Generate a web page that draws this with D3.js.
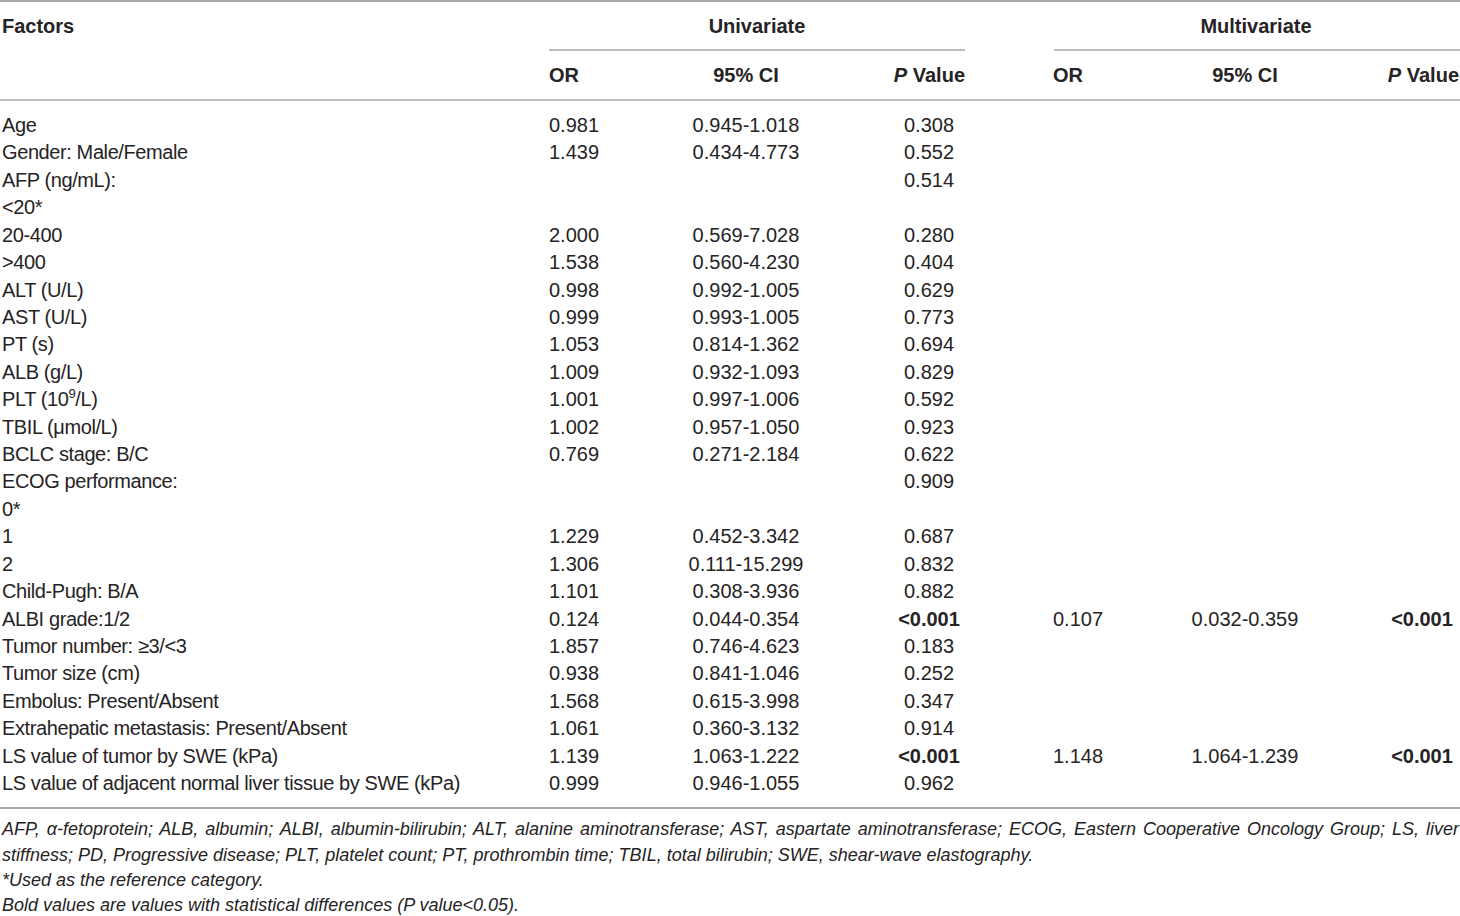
<!DOCTYPE html>
<html>
<head>
<meta charset="utf-8">
<script src="https://cdn.jsdelivr.net/npm/d3@7"></script>
<style>
  body { margin: 0; background: #fff; }
  text { font-family: "Liberation Sans", Arial, Helvetica, sans-serif; fill: #262324; }
</style>
</head>
<body>
<div id="body"></div>
<script>
//DATA
var factors = [
  "Age", "Gender: Male/Female", "AFP (ng/mL):", "<20*", "20-400", ">400",
  "ALT (U/L)", "AST (U/L)", "PT (s)", "ALB (g/L)", "PLT (10^9/L)", "TBIL (\u03bcmol/L)",
  "BCLC stage: B/C", "ECOG performance:", "0*", "1", "2", "Child-Pugh: B/A",
  "ALBI grade:1/2", "Tumor number: \u22653/<3", "Tumor size (cm)", "Embolus: Present/Absent",
  "Extrahepatic metastasis: Present/Absent", "LS value of tumor by SWE (kPa)",
  "LS value of adjacent normal liver tissue by SWE (kPa)"
];
var uniOR = ["0.981","1.439","","","2.000","1.538","0.998","0.999","1.053","1.009","1.001","1.002",
  "0.769","","","1.229","1.306","1.101","0.124","1.857","0.938","1.568","1.061","1.139","0.999"];
var uniCI = ["0.945-1.018","0.434-4.773","","","0.569-7.028","0.560-4.230","0.992-1.005","0.993-1.005",
  "0.814-1.362","0.932-1.093","0.997-1.006","0.957-1.050","0.271-2.184","","","0.452-3.342",
  "0.111-15.299","0.308-3.936","0.044-0.354","0.746-4.623","0.841-1.046","0.615-3.998",
  "0.360-3.132","1.063-1.222","0.946-1.055"];
var uniP = ["0.308","0.552","0.514","","0.280","0.404","0.629","0.773","0.694","0.829","0.592","0.923",
  "0.622","0.909","","0.687","0.832","0.882","<0.001","0.183","0.252","0.347","0.914","<0.001","0.962"];
var multiOR = ["","","","","","","","","","","","","","","","","","","0.107","","","","","1.148",""];
var multiCI = ["","","","","","","","","","","","","","","","","","","0.032-0.359","","","","","1.064-1.239",""];
var multiP = ["","","","","","","","","","","","","","","","","","","<0.001","","","","","<0.001",""];

var footnotes = [
  "AFP, \u03b1-fetoprotein; ALB, albumin; ALBI, albumin-bilirubin; ALT, alanine aminotransferase; AST, aspartate aminotransferase; ECOG, Eastern Cooperative Oncology Group; LS, liver",
  "stiffness; PD, Progressive disease; PLT, platelet count; PT, prothrombin time; TBIL, total bilirubin; SWE, shear-wave elastography.",
  "*Used as the reference category.",
  "Bold values are values with statistical differences (P value<0.05)."
];

var width = 1460;
var height = 916;

var svg = d3.select("#body").append("svg")
  .attr("width", width)
  .attr("height", height);

//row centres
var y = d3.scaleLinear().domain([0, factors.length - 1]).range([125, 783]);

var ruleColor = "#a7a9ac";
function rule(x1, x2, yy, w) {
  svg.append("line")
    .attr("x1", x1).attr("x2", x2).attr("y1", yy).attr("y2", yy)
    .attr("stroke", ruleColor).attr("stroke-width", w);
}
rule(0, width, 1, 2);
rule(549, 965, 50, 1.5);
rule(1054, width, 50, 1.5);
rule(0, width, 100, 1.5);
rule(0, width, 808, 2);

//---HEADERS
var head = svg.append("g").attr("font-size", 20).attr("font-weight", "bold");
head.append("text").attr("x", 2).attr("y", 33).text("Factors");
head.append("text").attr("x", 757).attr("y", 33).attr("text-anchor", "middle").text("Univariate");
head.append("text").attr("x", 1256).attr("y", 33).attr("text-anchor", "middle").text("Multivariate");

function headRow(orX, ciX, pX) {
  head.append("text").attr("x", orX).attr("y", 82).text("OR");
  head.append("text").attr("x", ciX).attr("y", 82).attr("text-anchor", "middle").text("95% CI");
  var p = head.append("text").attr("x", pX).attr("y", 82).attr("text-anchor", "end");
  p.append("tspan").attr("font-style", "italic").text("P");
  p.append("tspan").text(" Value");
}
headRow(549, 746, 965);
headRow(1053, 1245, 1459);

//---BODY
var body = svg.append("g").attr("font-size", 20);

var labels = body.selectAll("text.factor").data(factors).join("text")
  .attr("class", "factor")
  .attr("x", 2)
  .attr("y", function(d, i){ return y(i) + 7; })
  .attr("letter-spacing", -0.4);
labels.each(function(d){
  var t = d3.select(this);
  var m = d.match(/^(.*)\^(\d+)(.*)$/);
  if (m) {
    t.append("tspan").text(m[1]);
    t.append("tspan").attr("font-size", 13).attr("dy", -8).text(m[2]);
    t.append("tspan").attr("dy", 8).text(m[3]);
  } else {
    t.text(d);
  }
});

var columns = [
  {vals: uniOR,   x: 549,  anchor: "start"},
  {vals: uniCI,   x: 746,  anchor: "middle"},
  {vals: uniP,    x: 929,  anchor: "middle"},
  {vals: multiOR, x: 1053, anchor: "start"},
  {vals: multiCI, x: 1245, anchor: "middle"},
  {vals: multiP,  x: 1422, anchor: "middle"}
];
columns.forEach(function(col){
  body.append("g").selectAll("text").data(col.vals).join("text")
    .attr("x", col.x)
    .attr("y", function(d, i){ return y(i) + 7; })
    .attr("text-anchor", col.anchor)
    .attr("font-weight", function(d){ return d.charAt(0) === "<" ? "bold" : null; })
    .text(function(d){ return d; });
});

//---FOOTNOTES
var noteY = [835, 861, 886, 911];
var notes = svg.append("g").attr("font-size", 18).attr("font-style", "italic");
notes.selectAll("text").data(footnotes).join("text")
  .attr("x", 2)
  .attr("y", function(d, i){ return noteY[i]; })
  .text(function(d){ return d; })
  .each(function(d, i){
    if (i !== 0) return; // only first line is justified
    var w = this.getComputedTextLength();
    var gaps = d.split(" ").length - 1;
    var extra = (1459 - 2 - w) / gaps;
    d3.select(this).attr("word-spacing", extra);
  });
</script>
</body>
</html>
